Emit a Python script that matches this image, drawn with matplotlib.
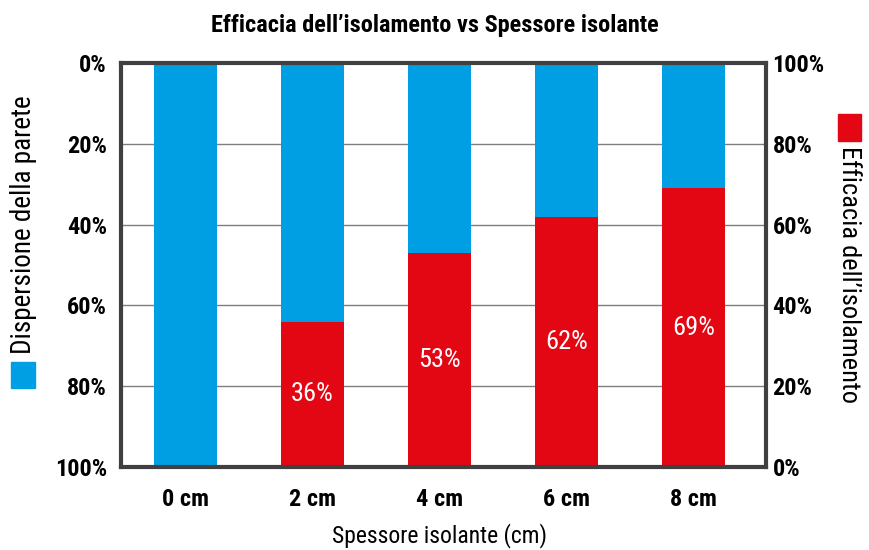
import matplotlib.pyplot as plt
from matplotlib.patches import Rectangle

# dati
spessori = ['0 cm', '2 cm', '4 cm', '6 cm', '8 cm']
efficacia = [0, 36, 53, 62, 69]
dispersione = [100, 64, 47, 38, 31]
tick_vals = [0, 20, 40, 60, 80, 100]

plt.rcParams['font.family'] = ['Liberation Sans Narrow', 'Roboto Condensed',
                               'DejaVu Sans Condensed', 'Liberation Sans']

blu = '#009FE3'
rosso = '#E30613'

fig = plt.figure(figsize=(8.7, 5.5), dpi=100)
ax = fig.add_axes([0.139, 0.151, 0.741, 0.734])

x = range(len(spessori))
ax.bar(x, efficacia, width=0.5, color=rosso, zorder=2)
ax.bar(x, dispersione, width=0.5, bottom=efficacia, color=blu, zorder=2)

for i, v in enumerate(efficacia):
    if v > 0:
        ax.text(i, v / 2, f'{v}%', ha='center', va='center', color='white', fontsize=19)

ax.set_xlim(-0.51, 4.57)
ax.set_ylim(0, 100)
ax.set_xticks(list(x))
ax.set_xticklabels(spessori, fontsize=17.5, fontweight='bold')
ax.set_yticks(tick_vals)
ax.set_yticklabels([f'{100 - v}%' for v in tick_vals], fontsize=17.5, fontweight='bold')
ax.tick_params(length=0, pad=10)
ax.tick_params(axis='x', pad=15)
ax.grid(axis='y', color='#7f7f7f', linewidth=1, zorder=1)
for s in ax.spines.values():
    s.set_linewidth(3)
    s.set_color('#404040')
    s.set_zorder(3)

ax2 = ax.twinx()
ax2.set_ylim(0, 100)
ax2.set_yticks(tick_vals)
ax2.set_yticklabels([f'{v}%' for v in tick_vals], fontsize=17.5, fontweight='bold')
ax2.tick_params(length=0, pad=5)
for s in ax2.spines.values():
    s.set_visible(False)

fig.text(440 / 870, 1 - 536 / 550, 'Spessore isolante (cm)', fontsize=17,
         ha='center', va='center')
fig.suptitle('Efficacia dell\u2019isolamento vs Spessore isolante', fontsize=17.5,
             fontweight='bold', y=0.975)

# legende laterali
fig.patches.append(Rectangle((11 / 870, 1 - 388 / 550), 24 / 870, 26 / 550,
                             transform=fig.transFigure, color=blu))
fig.text(24 / 870, 1 - 225 / 550, 'Dispersione della parete', rotation=90,
         ha='center', va='center', fontsize=19.5)
fig.patches.append(Rectangle((838 / 870, 1 - 141 / 550), 23 / 870, 27 / 550,
                             transform=fig.transFigure, color=rosso))
fig.text(849 / 870, 1 - 275 / 550, 'Efficacia dell\u2019isolamento', rotation=270,
         ha='center', va='center', fontsize=19)

plt.savefig('out.png', dpi=100)
